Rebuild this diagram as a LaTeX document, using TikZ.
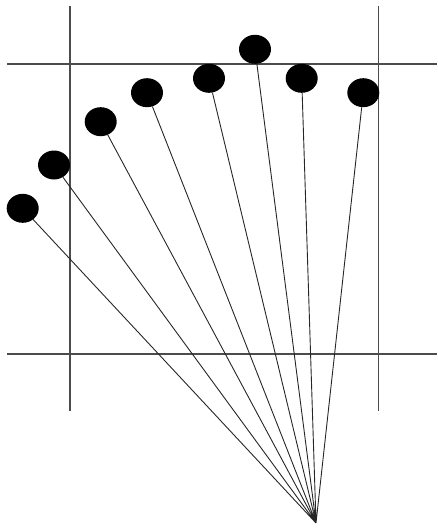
\documentclass[tikz,border=0pt]{standalone}
\usetikzlibrary{positioning,shapes.geometric}
\begin{document}
\begin{tikzpicture}[x=1pt,y=-1pt,
  pin/.style={ellipse,fill=black,minimum width=32pt,minimum height=29pt,inner sep=0pt},
  frame/.style={gray!60!black,line width=1.1pt},
  ray/.style={black!85,line width=0.9pt}]
\useasboundingbox (0,0) rectangle (437,532);

% --- frame ---
\draw[frame] (70,6) -- (70,411);
\draw[frame] (378.5,6) -- (378.5,411);
\draw[frame] (7,64) -- (437,64);
\draw[frame] (7,354) -- (437,354);

% --- pins ---
\coordinate (o) at (316,523);
\node[pin] (p1) at (22.7,208.3) {};
\node[pin] (p2) at (54,165) {};
\node[pin] (p3) at (100.7,121.7) {};
\node[pin] (p4) at (147,92.7) {};
\node[pin] (p5) at (209,78.3) {};
\node[pin] (p6) at (255,49.3) {};
\node[pin] (p7) at (301.7,78.3) {};
\node[pin] (p8) at (363.3,92.7) {};

% --- rays ---
\draw[ray] (o) -- (p1) (o) -- (p2) (o) -- (p3) (o) -- (p4)
  (o) -- (p5) (o) -- (p6) (o) -- (p7) (o) -- (p8);

\end{tikzpicture}
\end{document}
